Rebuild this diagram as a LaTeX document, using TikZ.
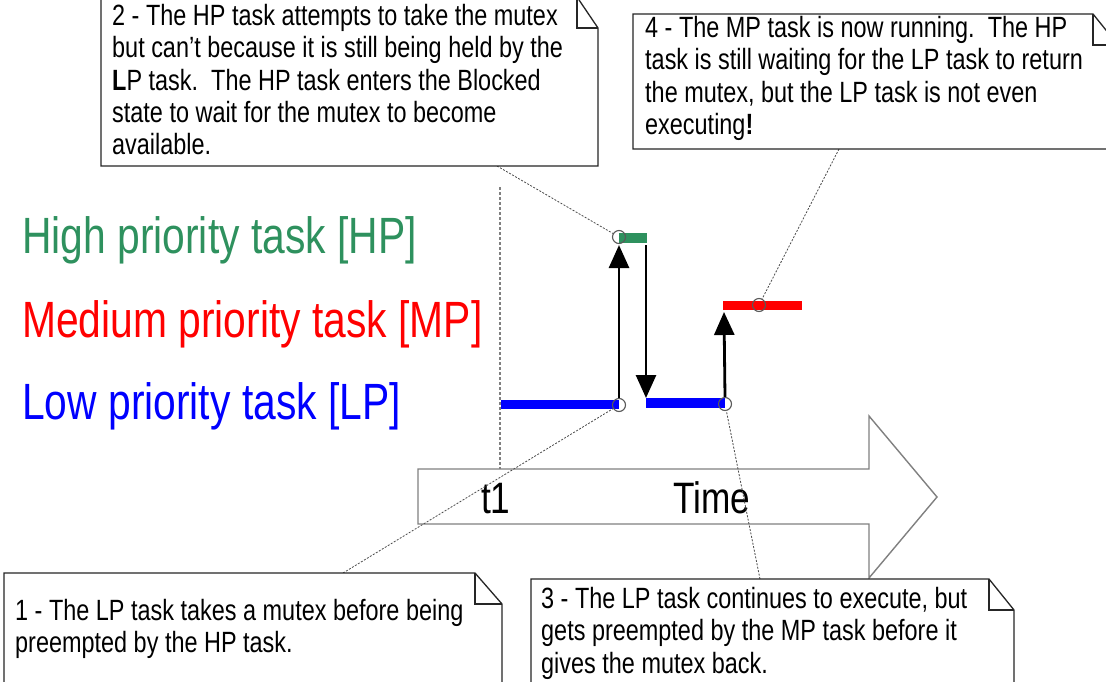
\documentclass[tikz,border=0pt]{standalone}
\usepackage{fontspec}
\setmainfont{Liberation Sans}[FakeStretch=0.8]
\usetikzlibrary{arrows.meta}
\definecolor{hpgreen}{RGB}{46,145,94}
\definecolor{mpred}{RGB}{255,0,0}
\definecolor{lpblue}{RGB}{0,0,255}
\begin{document}
\begin{tikzpicture}[x=1pt,y=-1pt,
  notebox/.style={draw=black!85,line width=1.3pt,fill=white,line join=miter},
  notetext/.style={anchor=base west,inner sep=0pt,align=left,font=\fontsize{29.3}{32.5}\selectfont},
  tasklabel/.style={anchor=base west,inner sep=0pt,font=\fontsize{51}{60}\selectfont},
  timelabel/.style={anchor=base west,inner sep=0pt,font=\fontsize{44}{50}\selectfont},
  timearrow/.style={draw=black!50,line width=1.4pt,fill=white,line join=miter},
  conn/.style={draw=black!70,line width=0.8pt,dash pattern=on 2pt off 1.5pt},
  tline/.style={draw=black!50,line width=2.4pt,dash pattern=on 3pt off 2pt},
  bar/.style={line width=9.5pt,line cap=butt},
  evmark/.style={circle,draw=black!65,line width=1.1pt,minimum size=13pt,inner sep=0pt},
  evarrow/.style={draw=black,line width=2.8pt,-{Triangle[width=20pt,length=23pt]}}
]
\clip (0,0) rectangle (1106,682);
\fill[white] (0,0) rectangle (1106,682);

% time arrow
\draw[timearrow] (418,469) -- (869,469) -- (869,416) -- (937,497) -- (869,578) -- (869,524) -- (418,524) -- cycle;
\node[timelabel] (t1) at (481,513) {t1};
\node[timelabel] (time) at (673,513) {Time};

% t1 marker line
\coordinate (t1top) at (500,187);
\coordinate (t1bot) at (500,469);
\draw[tline] (t1top) -- (t1bot);

% task labels
\node[tasklabel,text=hpgreen] (hp) at (22,253) {High priority task [HP]};
\node[tasklabel,text=mpred] (mp) at (22,337) {Medium priority task [MP]};
\node[tasklabel,text=lpblue] (lp) at (22,419) {Low priority task [LP]};

% execution bars
\coordinate (lp1s) at (501,404.5); \coordinate (lp1e) at (619,404.5);
\coordinate (hps) at (619,238); \coordinate (hpe) at (647,238);
\coordinate (lp2s) at (646,403); \coordinate (lp2e) at (725,403);
\coordinate (mps) at (723,305.5); \coordinate (mpe) at (802,305.5);
\draw[bar,lpblue] (lp1s) -- (lp1e);
\draw[bar,hpgreen] (hps) -- (hpe);
\draw[bar,lpblue] (lp2s) -- (lp2e);
\draw[bar,mpred] (mps) -- (mpe);

% event marks
\node[evmark] (c1) at (619,405) {};
\node[evmark] (c2) at (619,237) {};
\node[evmark] (c3) at (725,404) {};
\node[evmark] (c4) at (759,305) {};

% context switch arrows
\coordinate (dnS) at (646,245);
\coordinate (dnE) at (646,398);
\coordinate (upE) at (724,312);
\draw[evarrow] (c1.north) -- ([yshift=-1pt]c2.south);
\draw[evarrow] (dnS) -- (dnE);
\draw[evarrow] (c3.north) -- (upE);

% note anchors
\coordinate (n1a) at (343,573);
\coordinate (n2a) at (497,166);
\coordinate (n3a) at (760,579);
\coordinate (n4a) at (839,149);
\draw[conn] (n1a) -- (c1);
\draw[conn] (n2a) -- (c2);
\draw[conn] (n3a) -- (c3);
\draw[conn] (n4a) -- (c4);

% note 2
\draw[notebox] (101,-3) -- (577,-3) -- (598,28) -- (598,166) -- (101,166) -- cycle;
\draw[notebox,fill=none] (577,-3) -- (577,28) -- (598,28);
\node[notetext] (note2) at (112,155) {2 - The HP task attempts to take the mutex\\but can’t because it is still being held by the\\\textbf{L}P task.\ \ The HP task enters the Blocked\\state to wait for the mutex to become\\available.};

% note 4
\draw[notebox] (633,14) -- (1093,14) -- (1118,45) -- (1118,149) -- (633,149) -- cycle;
\draw[notebox,fill=none] (1093,14) -- (1093,45) -- (1118,45);
\node[notetext] (note4) at (645,135) {4 - The MP task is now running.\ \ The HP\\task is still waiting for the LP task to return\\the mutex, but the LP task is not even\\executing\textbf{!}};

% note 1
\draw[notebox] (4,573) -- (475,573) -- (502,604) -- (502,700) -- (4,700) -- cycle;
\draw[notebox,fill=none] (475,573) -- (475,604) -- (502,604);
\node[notetext] (note1) at (15,652.5) {1 - The LP task takes a mutex before being\\preempted by the HP task.};

% note 3
\draw[notebox] (531,579) -- (989,579) -- (1014,610) -- (1014,700) -- (531,700) -- cycle;
\draw[notebox,fill=none] (989,579) -- (989,610) -- (1014,610);
\node[notetext] (note3) at (541,673) {3 - The LP task continues to execute, but\\gets preempted by the MP task before it\\gives the mutex back.};
\end{tikzpicture}
\end{document}
